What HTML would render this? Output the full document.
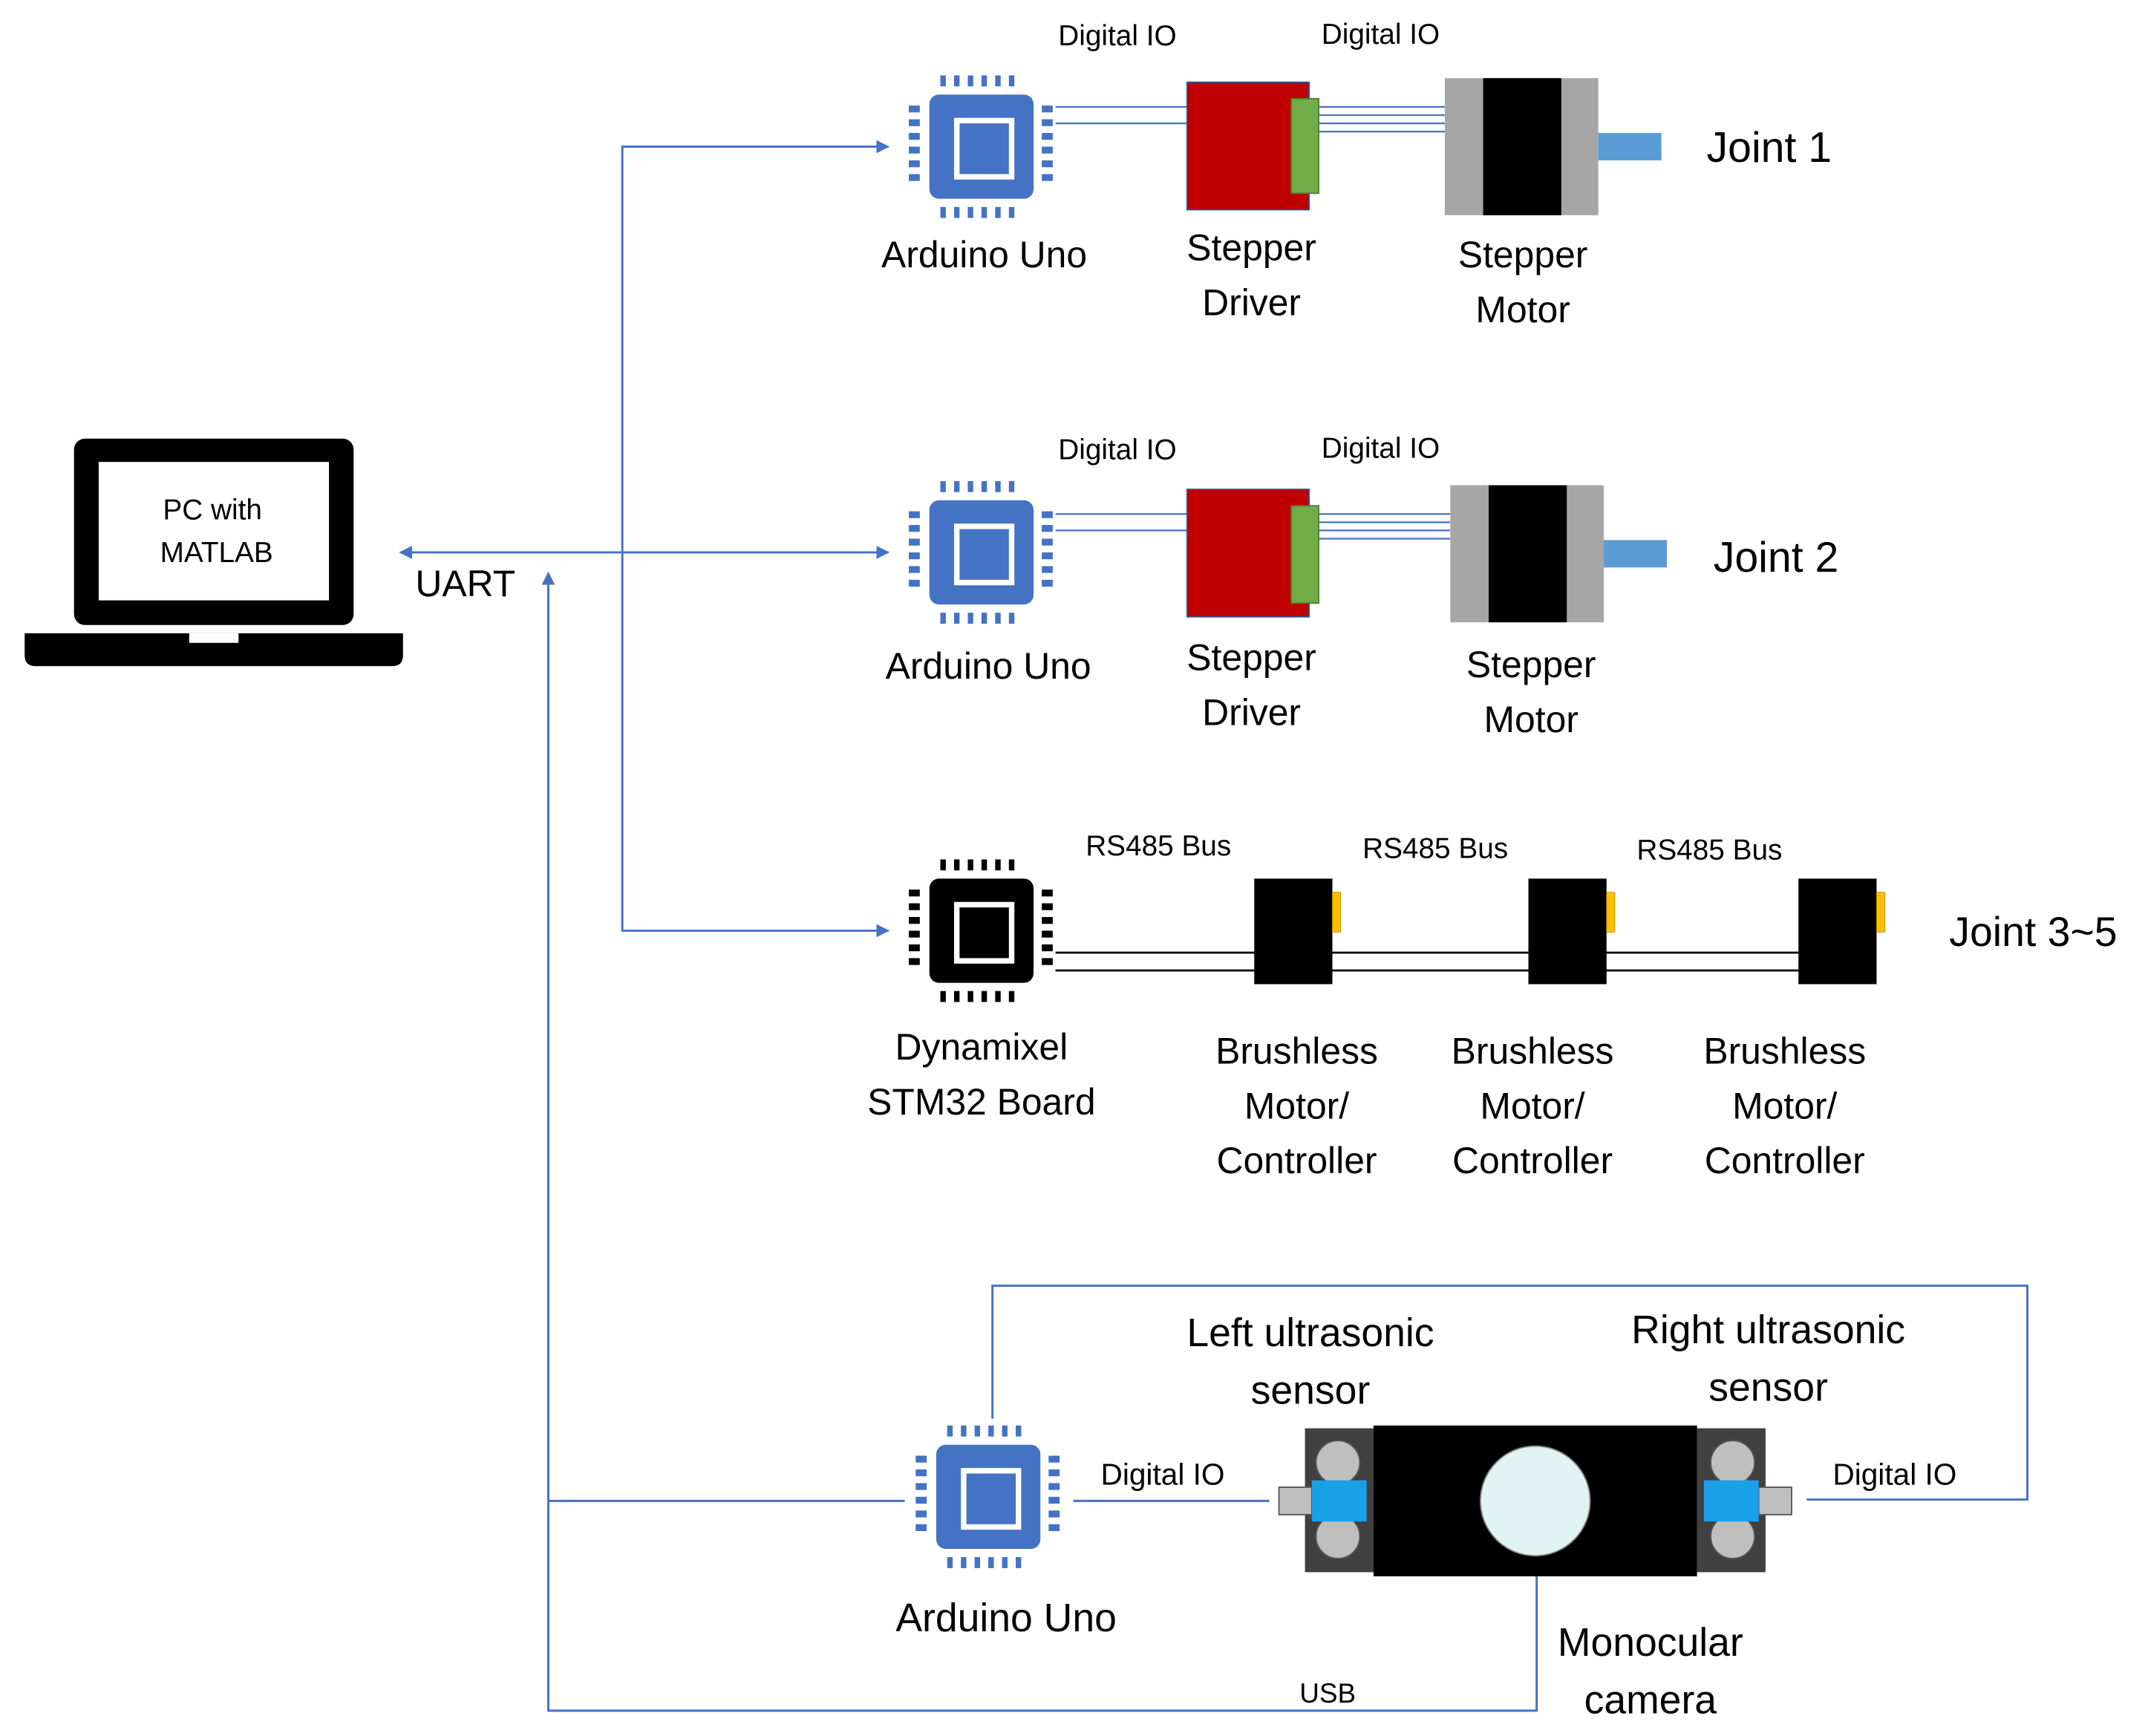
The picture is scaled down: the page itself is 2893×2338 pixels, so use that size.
<!DOCTYPE html>
<html><head><meta charset="utf-8"><style>html,body{margin:0;padding:0;background:#fff}svg{display:block}text{font-family:"Liberation Sans",sans-serif;fill:#000}</style></head><body>
<svg width="2893" height="2338" viewBox="0 0 1567 1266.5" preserveAspectRatio="none" xmlns="http://www.w3.org/2000/svg">
<defs>
<marker id="ar" viewBox="0 0 10 10" refX="9" refY="5" markerWidth="6" markerHeight="6" orient="auto-start-reverse"><path d="M0,0L10,5L0,10z" fill="#4472c4"/></marker>
<g id="chip">
<rect x="-38" y="-38" width="76" height="76" rx="7"/>
<rect x="-20" y="-21" width="44" height="45" fill="#fff"/>
<rect x="-16" y="-17" width="36" height="37"/>
<g>
<rect x="-30" y="-52" width="4" height="8"/><rect x="-20" y="-52" width="4" height="8"/><rect x="-10" y="-52" width="4" height="8"/><rect x="0" y="-52" width="4" height="8"/><rect x="10" y="-52" width="4" height="8"/><rect x="20" y="-52" width="4" height="8"/>
<rect x="-30" y="44" width="4" height="8"/><rect x="-20" y="44" width="4" height="8"/><rect x="-10" y="44" width="4" height="8"/><rect x="0" y="44" width="4" height="8"/><rect x="10" y="44" width="4" height="8"/><rect x="20" y="44" width="4" height="8"/>
<rect x="-53" y="-30" width="8" height="5"/><rect x="-53" y="-20" width="8" height="5"/><rect x="-53" y="-10" width="8" height="5"/><rect x="-53" y="0" width="8" height="5"/><rect x="-53" y="10" width="8" height="5"/><rect x="-53" y="20" width="8" height="5"/>
<rect x="44" y="-30" width="8" height="5"/><rect x="44" y="-20" width="8" height="5"/><rect x="44" y="-10" width="8" height="5"/><rect x="44" y="0" width="8" height="5"/><rect x="44" y="10" width="8" height="5"/><rect x="44" y="20" width="8" height="5"/>
</g>
</g>
</defs>

<!-- laptop -->
<rect x="54" y="320" width="204" height="136" rx="8" fill="#000"/>
<rect x="72" y="337" width="168" height="101" fill="#fff"/>
<path d="M18,462H294V478Q294,486 286,486H26Q18,486 18,478Z" fill="#000"/>
<rect x="138" y="462" width="36" height="7" fill="#fff"/>
<text x="155" y="379" font-size="21" text-anchor="middle">PC with</text>
<text x="158" y="410" font-size="21" text-anchor="middle">MATLAB</text>

<!-- blue connectors -->
<g stroke="#4472c4" stroke-width="1.6" fill="none">
<line x1="292" y1="403" x2="648" y2="403" marker-start="url(#ar)" marker-end="url(#ar)"/>
<polyline points="648,107 454,107 454,679 648,679" marker-start="url(#ar)" marker-end="url(#ar)"/>
<polyline points="400,418 400,1248 1121,1248 1121,1150" marker-start="url(#ar)"/>
<line x1="400" y1="1095" x2="660" y2="1095"/>
<line x1="783" y1="1095" x2="926" y2="1095"/>
<polyline points="724,1035 724,938 1479,938 1479,1094 1318,1094"/>
</g>
<text x="303" y="435" font-size="27">UART</text>
<text x="948" y="1242" font-size="20">USB</text>

<!-- row1 -->
<use href="#chip" x="716" y="107" fill="#4472c4"/>
<g stroke="#4472c4" stroke-width="1.2"><line x1="770" y1="78" x2="866" y2="78"/><line x1="770" y1="90" x2="866" y2="90"/>
<line x1="962" y1="78" x2="1054" y2="78"/><line x1="962" y1="84" x2="1054" y2="84"/><line x1="962" y1="90" x2="1054" y2="90"/><line x1="962" y1="96" x2="1054" y2="96"/></g>
<rect x="866" y="60" width="89" height="93" fill="#c00000" stroke="#2f5597" stroke-width="1"/>
<rect x="942" y="72" width="20" height="69" fill="#70ad47" stroke="#507e32"/>
<rect x="1054" y="57" width="112" height="100" fill="#a6a6a6"/>
<rect x="1082" y="57" width="57" height="100" fill="#000"/>
<rect x="1166" y="97" width="46" height="20" fill="#5b9bd5"/>
<text x="1245" y="118" font-size="31">Joint 1</text>
<text x="772" y="33" font-size="21">Digital IO</text>
<text x="964" y="32" font-size="21">Digital IO</text>
<g font-size="27" text-anchor="middle">
<text x="718" y="195">Arduino Uno</text>
<text x="913" y="190">Stepper</text><text x="913" y="230">Driver</text>
<text x="1111" y="195">Stepper</text><text x="1111" y="235">Motor</text>
</g>

<!-- row2 -->
<use href="#chip" x="716" y="403" fill="#4472c4"/>
<g stroke="#4472c4" stroke-width="1.2"><line x1="770" y1="375" x2="866" y2="375"/><line x1="770" y1="387" x2="866" y2="387"/>
<line x1="962" y1="375" x2="1058" y2="375"/><line x1="962" y1="381" x2="1058" y2="381"/><line x1="962" y1="387" x2="1058" y2="387"/><line x1="962" y1="393" x2="1058" y2="393"/></g>
<rect x="866" y="357" width="89" height="93" fill="#c00000" stroke="#2f5597" stroke-width="1"/>
<rect x="942" y="369" width="20" height="71" fill="#70ad47" stroke="#507e32"/>
<rect x="1058" y="354" width="112" height="100" fill="#a6a6a6"/>
<rect x="1086" y="354" width="57" height="100" fill="#000"/>
<rect x="1170" y="394" width="46" height="20" fill="#5b9bd5"/>
<text x="1250" y="417" font-size="31">Joint 2</text>
<text x="772" y="335" font-size="21">Digital IO</text>
<text x="964" y="334" font-size="21">Digital IO</text>
<g font-size="27" text-anchor="middle">
<text x="721" y="495">Arduino Uno</text>
<text x="913" y="489">Stepper</text><text x="913" y="529">Driver</text>
<text x="1117" y="494">Stepper</text><text x="1117" y="534">Motor</text>
</g>

<!-- row3 -->
<use href="#chip" x="716" y="679" fill="#000"/>
<g stroke="#000" stroke-width="1.5"><line x1="770" y1="695" x2="1312" y2="695"/><line x1="770" y1="708" x2="1312" y2="708"/></g>
<rect x="915" y="641" width="57" height="77" fill="#000"/>
<rect x="1115" y="641" width="57" height="77" fill="#000"/>
<rect x="1312" y="641" width="57" height="77" fill="#000"/>
<g fill="#ffc000" stroke="#bf9000" stroke-width="0.5"><rect x="972" y="651" width="6" height="29"/><rect x="1172" y="651" width="6" height="29"/><rect x="1369" y="651" width="6" height="29"/></g>
<text x="792" y="624" font-size="21">RS485 Bus</text>
<text x="994" y="626" font-size="21">RS485 Bus</text>
<text x="1194" y="627" font-size="21">RS485 Bus</text>
<text x="1422" y="690" font-size="30">Joint 3~5</text>
<g font-size="27" text-anchor="middle">
<text x="716" y="773">Dynamixel</text><text x="716" y="813">STM32 Board</text>
<text x="946" y="776">Brushless</text><text x="946" y="816">Motor/</text><text x="946" y="856">Controller</text>
<text x="1118" y="776">Brushless</text><text x="1118" y="816">Motor/</text><text x="1118" y="856">Controller</text>
<text x="1302" y="776">Brushless</text><text x="1302" y="816">Motor/</text><text x="1302" y="856">Controller</text>
</g>

<!-- bottom -->
<use href="#chip" x="721" y="1092" fill="#4472c4"/>
<rect x="952" y="1042" width="50" height="105" fill="#404040"/>
<rect x="1238" y="1042" width="50" height="105" fill="#404040"/>
<rect x="1002" y="1040" width="236" height="110" fill="#000"/>
<circle cx="1120" cy="1095" r="40" fill="#e0f4f4" stroke="#888" stroke-width="1"/>
<g fill="#bfbfbf" stroke="#555"><circle cx="976" cy="1067" r="16"/><circle cx="976" cy="1121" r="16"/><circle cx="1264" cy="1067" r="16"/><circle cx="1264" cy="1121" r="16"/>
<rect x="933" y="1085" width="24" height="20"/><rect x="1283" y="1085" width="24" height="20"/></g>
<rect x="957" y="1080" width="40" height="30" fill="#1aa0e8"/>
<rect x="1243" y="1080" width="40" height="30" fill="#1aa0e8"/>
<text x="803" y="1083" font-size="22">Digital IO</text>
<text x="1337" y="1083" font-size="22">Digital IO</text>
<g font-size="29" text-anchor="middle">
<text x="956" y="982">Left ultrasonic</text><text x="956" y="1024">sensor</text>
<text x="1290" y="980">Right ultrasonic</text><text x="1290" y="1022">sensor</text>
<text x="734" y="1190">Arduino Uno</text>
<text x="1204" y="1208">Monocular</text><text x="1204" y="1250">camera</text>
</g>
</svg>
</body></html>
